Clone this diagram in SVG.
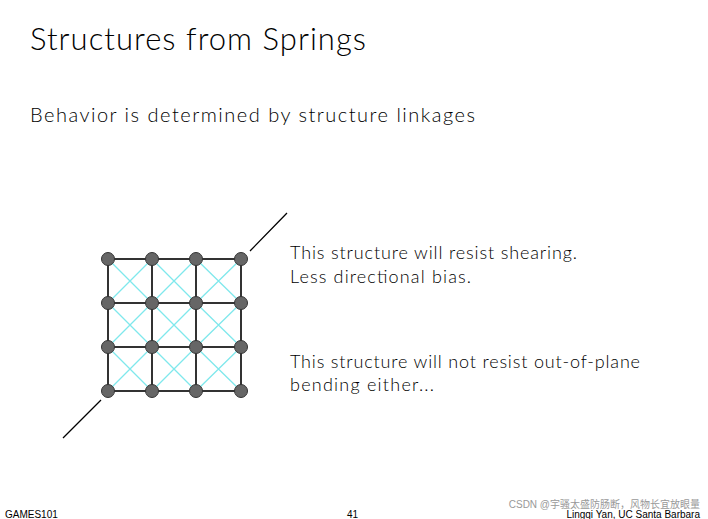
<svg xmlns="http://www.w3.org/2000/svg" width="708" height="519" viewBox="0 0 708 519">
<style>
.t{font-family:Lato,"Open Sans",sans-serif;font-weight:300;fill:#000}
.g{stroke:#333;stroke-width:2;fill:none}
.c{stroke:#7fe8ec;stroke-width:1.3}
.n{fill:#666;stroke:#333;stroke-width:1}
.s{font-family:"Liberation Sans",Arial,sans-serif;font-size:10px;fill:#000}
</style>
<rect width="708" height="519" fill="#fff"/>
<text class="t" x="30" y="50" font-size="31" textLength="336">Structures from Springs</text>
<text class="t" x="30" y="122" font-size="20" textLength="445">Behavior is determined by structure linkages</text>
<g id="connectors">
<g class="c">
<path d="M108,259 L152,303 M152,259 L108,303 M152,259 L196,303 M196,259 L152,303 M196,259 L241,303 M241,259 L196,303"/>
<path d="M108,303 L152,347 M152,303 L108,347 M152,303 L196,347 M196,303 L152,347 M196,303 L241,347 M241,303 L196,347"/>
<path d="M108,347 L152,391 M152,347 L108,391 M152,347 L196,391 M196,347 L152,391 M196,347 L241,391 M241,347 L196,391"/>
</g>
<path class="g" d="M108,259 H241 M108,303 H241 M108,347 H241 M108,391 H241 M108,259 V391 M152,259 V391 M196,259 V391 M241,259 V391"/>
<path d="M250,251 L287,213 M101,400 L63,438" stroke="#000" stroke-width="1.3"/>
</g>
<g id="nodes">
<circle id="n11" class="n" cx="108" cy="259" r="6.5"/><circle id="n12" class="n" cx="152" cy="259" r="6.5"/><circle id="n13" class="n" cx="196" cy="259" r="6.5"/><circle id="n14" class="n" cx="241" cy="259" r="6.5"/>
<circle id="n21" class="n" cx="108" cy="303" r="6.5"/><circle id="n22" class="n" cx="152" cy="303" r="6.5"/><circle id="n23" class="n" cx="196" cy="303" r="6.5"/><circle id="n24" class="n" cx="241" cy="303" r="6.5"/>
<circle id="n31" class="n" cx="108" cy="347" r="6.5"/><circle id="n32" class="n" cx="152" cy="347" r="6.5"/><circle id="n33" class="n" cx="196" cy="347" r="6.5"/><circle id="n34" class="n" cx="241" cy="347" r="6.5"/>
<circle id="n41" class="n" cx="108" cy="391" r="6.5"/><circle id="n42" class="n" cx="152" cy="391" r="6.5"/><circle id="n43" class="n" cx="196" cy="391" r="6.5"/><circle id="n44" class="n" cx="241" cy="391" r="6.5"/>
</g>
<text class="t" x="290" y="259" font-size="18" textLength="287">This structure will resist shearing.</text>
<text class="t" x="290" y="283" font-size="18" textLength="181">Less directional bias.</text>
<text class="t" x="290" y="368" font-size="18" textLength="350">This structure will not resist out-of-plane</text>
<text class="t" x="290" y="391" font-size="18" textLength="144">bending either...</text>
<text class="s" x="5" y="518">GAMES101</text>
<text class="s" x="347" y="518">41</text>
<text class="s" x="700" y="518" text-anchor="end">Lingqi Yan, UC Santa Barbara</text>
<text x="700" y="508" text-anchor="end" font-family="'Liberation Sans','Noto Sans CJK SC',sans-serif" font-size="10" fill="#999">CSDN @宇骚太盛防肠断，风物长宜放眼量</text>
</svg>
